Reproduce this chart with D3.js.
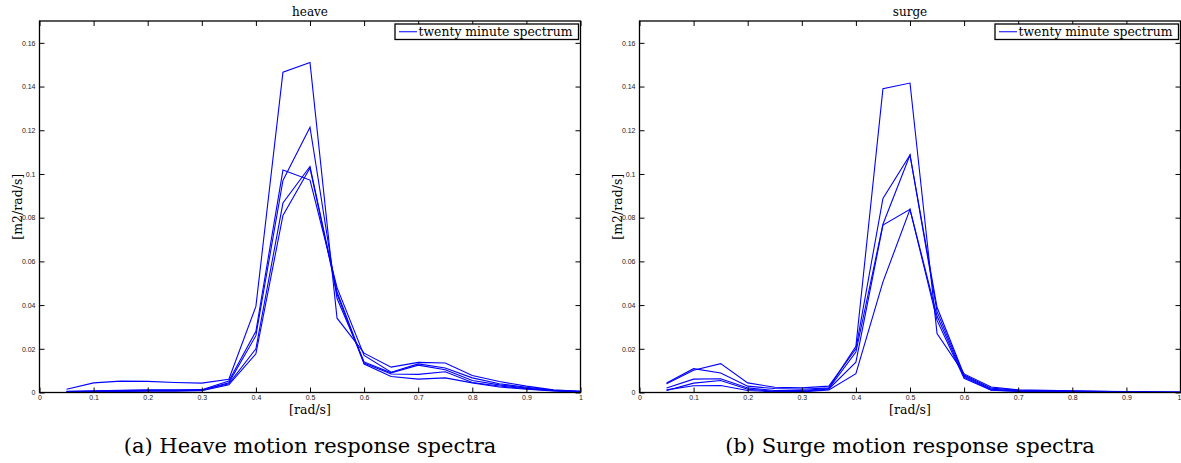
<!DOCTYPE html>
<html>
<head>
<meta charset="utf-8">
<script src="https://cdn.jsdelivr.net/npm/d3@7"></script>
<style>
  html, body { margin: 0; padding: 0; background: #fff; }
  svg { display: block; }
  .tick text { font-family: "Liberation Sans", Arial, sans-serif; }
</style>
</head>
<body>
<svg id="fig" width="1181" height="463"></svg>
<script>
// Frequency grid of the spectral estimates [rad/s]
const freqs = [0.05, 0.10, 0.15, 0.20, 0.25, 0.30, 0.35, 0.40, 0.45, 0.50,
               0.55, 0.60, 0.65, 0.70, 0.75, 0.80, 0.85, 0.90, 0.95, 1.00];

// Heave response spectra, one array per twenty minute record [m2/rad/s]
const heave1 = [0.0015, 0.0044, 0.0052, 0.0051, 0.0046, 0.0043, 0.0061, 0.0394, 0.1466, 0.1510,
                0.0340, 0.0180, 0.0116, 0.0138, 0.0135, 0.0078, 0.0050, 0.0029, 0.0012, 0.0006];
const heave2 = [0.0005, 0.0008, 0.0010, 0.0012, 0.0012, 0.0013, 0.0052, 0.0280, 0.1018, 0.0972,
                0.0480, 0.0170, 0.0093, 0.0131, 0.0112, 0.0067, 0.0040, 0.0024, 0.0010, 0.0005];
const heave3 = [0.0004, 0.0006, 0.0009, 0.0010, 0.0010, 0.0011, 0.0045, 0.0260, 0.0970, 0.1214,
                0.0430, 0.0140, 0.0090, 0.0125, 0.0104, 0.0055, 0.0035, 0.0020, 0.0009, 0.0004];
const heave4 = [0.0003, 0.0005, 0.0007, 0.0008, 0.0008, 0.0010, 0.0040, 0.0200, 0.0867, 0.1034,
                0.0460, 0.0135, 0.0085, 0.0083, 0.0095, 0.0046, 0.0030, 0.0017, 0.0008, 0.0003];
const heave5 = [0.0002, 0.0004, 0.0005, 0.0006, 0.0006, 0.0008, 0.0035, 0.0177, 0.0810, 0.1027,
                0.0450, 0.0130, 0.0073, 0.0061, 0.0067, 0.0044, 0.0025, 0.0015, 0.0007, 0.0003];

// Surge response spectra [m2/rad/s]
const surge1 = [0.0043, 0.0109, 0.0089, 0.0029, 0.0018, 0.0015, 0.0021, 0.0211, 0.1390, 0.1416,
                0.0270, 0.0085, 0.0025, 0.0012, 0.0010, 0.0008, 0.0006, 0.0004, 0.0002, 0.0001];
const surge2 = [0.0040, 0.0102, 0.0132, 0.0044, 0.0024, 0.0021, 0.0029, 0.0200, 0.0888, 0.1087,
                0.0390, 0.0080, 0.0020, 0.0010, 0.0009, 0.0007, 0.0005, 0.0003, 0.0002, 0.0001];
const surge3 = [0.0021, 0.0061, 0.0063, 0.0021, 0.0009, 0.0009, 0.0018, 0.0185, 0.0770, 0.1087,
                0.0370, 0.0075, 0.0015, 0.0008, 0.0007, 0.0006, 0.0004, 0.0003, 0.0002, 0.0001];
const surge4 = [0.0009, 0.0043, 0.0055, 0.0015, 0.0006, 0.0005, 0.0016, 0.0139, 0.0766, 0.0838,
                0.0350, 0.0070, 0.0012, 0.0006, 0.0005, 0.0004, 0.0003, 0.0002, 0.0001, 0.0001];
const surge5 = [0.0012, 0.0031, 0.0032, 0.0009, 0.0003, 0.0003, 0.0012, 0.0086, 0.0506, 0.0838,
                0.0330, 0.0065, 0.0010, 0.0005, 0.0004, 0.0003, 0.0002, 0.0002, 0.0001, 0.0001];

// Axis ticks and labels
const xTicks = [0, 0.1, 0.2, 0.3, 0.4, 0.5, 0.6, 0.7, 0.8, 0.9, 1];
const yTicks = [0, 0.02, 0.04, 0.06, 0.08, 0.1, 0.12, 0.14, 0.16];
const xDomain = [0, 1];
const yDomain = [0, 0.17];

const panels = [
  { title: "heave", caption: "(a)  Heave motion response spectra",
    series: [heave1, heave2, heave3, heave4, heave5], left: 39.5, right: 580.5 },
  { title: "surge", caption: "(b)  Surge motion response spectra",
    series: [surge1, surge2, surge3, surge4, surge5], left: 639.5, right: 1180.5 }
];
const legendLabel = "twenty minute spectrum";
const xLabel = "[rad/s]";
const yLabel = "[m2/rad/s]";

const svg = d3.select("#fig");
const plotTop = 21, plotBottom = 392.5;
const serif = "'DejaVu Serif', 'Liberation Serif', serif";

const fmt = d => (d === 0 ? "0" : d === 1 ? "1" : String(+d.toFixed(2)));

panels.forEach(p => {
  const x = d3.scaleLinear().domain(xDomain).range([p.left, p.right]);
  const y = d3.scaleLinear().domain(yDomain).range([plotBottom, plotTop]);
  const g = svg.append("g");

  // spectra
  const line = d3.line().x((d, i) => x(freqs[i])).y(d => y(d));
  g.selectAll("path.spec").data(p.series).join("path")
    .attr("class", "spec")
    .attr("d", line)
    .attr("fill", "none")
    .attr("stroke", "#0000ff")
    .attr("stroke-width", 1.1)
    .attr("stroke-linejoin", "miter");

  // axes with inward ticks on all four sides
  const tickStyle = sel => {
    sel.select(".domain").remove();
    sel.selectAll(".tick line").attr("stroke", "#000").attr("stroke-width", 1);
    sel.selectAll(".tick text").attr("fill", "#222").style("font-size", "7px");
  };
  const xAxisG = g.append("g").attr("transform", `translate(0,${plotBottom})`)
    .call(d3.axisBottom(x).tickValues(xTicks).tickFormat(fmt).tickSizeInner(-5).tickSizeOuter(0).tickPadding(3))
    .call(tickStyle);
  // keep the last label inside the page edge
  xAxisG.selectAll(".tick text").filter(d => d === 1 && p.right > 1170).attr("dx", -1.5);
  g.append("g").attr("transform", `translate(0,${plotTop})`)
    .call(d3.axisTop(x).tickValues(xTicks).tickFormat("").tickSizeInner(-5).tickSizeOuter(0))
    .call(tickStyle);
  g.append("g").attr("transform", `translate(${p.left},0)`)
    .call(d3.axisLeft(y).tickValues(yTicks).tickFormat(fmt).tickSizeInner(-5).tickSizeOuter(0).tickPadding(4))
    .call(tickStyle);
  g.append("g").attr("transform", `translate(${p.right},0)`)
    .call(d3.axisRight(y).tickValues(yTicks).tickFormat("").tickSizeInner(-5).tickSizeOuter(0))
    .call(tickStyle);

  // frame
  g.append("rect")
    .attr("x", p.left).attr("y", plotTop)
    .attr("width", p.right - p.left).attr("height", plotBottom - plotTop)
    .attr("fill", "none").attr("stroke", "#000").attr("stroke-width", 1.3);

  const cx = (p.left + p.right) / 2;
  g.append("text").attr("x", cx).attr("y", 16).attr("text-anchor", "middle")
    .style("font-family", serif).style("font-size", "12px").text(p.title);
  g.append("text").attr("x", cx).attr("y", 414).attr("text-anchor", "middle")
    .style("font-family", serif).style("font-size", "12.5px").text(xLabel);
  g.append("text")
    .attr("transform", `translate(${p.left - 18},${(plotTop + plotBottom) / 2}) rotate(-90)`)
    .attr("text-anchor", "middle")
    .style("font-family", serif).style("font-size", "12.5px").text(yLabel);
  g.append("text").attr("x", cx).attr("y", 453).attr("text-anchor", "middle")
    .style("font-family", serif).style("font-size", "21px").text(p.caption);

  // legend
  const lg = g.append("g");
  const lw = 183.5, lh = 15.5;
  const lx = p.right - 2 - lw, ly = plotTop + 3;
  lg.append("rect").attr("x", lx).attr("y", ly).attr("width", lw).attr("height", lh)
    .attr("fill", "#fff").attr("stroke", "#000").attr("stroke-width", 1.3);
  lg.append("line").attr("x1", lx + 4).attr("x2", lx + 22)
    .attr("y1", ly + lh / 2).attr("y2", ly + lh / 2)
    .attr("stroke", "#0000ff").attr("stroke-width", 1);
  lg.append("text").attr("x", lx + 23.5).attr("y", ly + 12)
    .style("font-family", serif).style("font-size", "12.4px").text(legendLabel);
});
</script>
</body>
</html>
